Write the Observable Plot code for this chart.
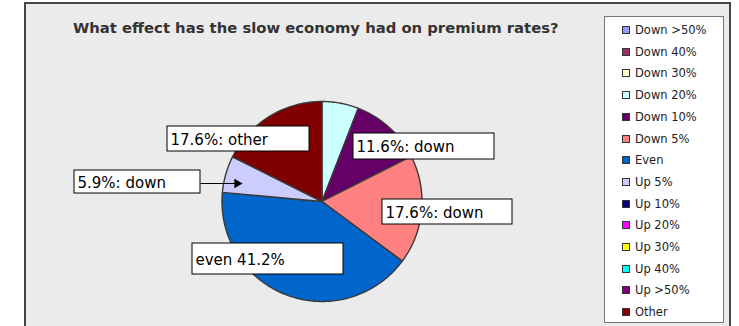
<!DOCTYPE html>
<html>
<head>
<meta charset="utf-8">
<script src="https://cdn.jsdelivr.net/npm/d3@7"></script>
<script src="https://cdn.jsdelivr.net/npm/@observablehq/plot@0.6"></script>
<style>
  html, body { margin: 0; padding: 0; background: #ffffff; }
  #wrap { position: relative; width: 739px; height: 326px; overflow: hidden; background: #ffffff; font-family: "DejaVu Sans", Verdana, sans-serif; }
  #panel { position: absolute; left: 24px; top: 2px; width: 707px; height: 340px; box-sizing: border-box; background: #ebebeb; border: 2px solid #444444; }
  #title { position: absolute; left: 73px; top: 19px; font-weight: bold; font-size: 14.8px; color: #333333; white-space: nowrap; line-height: 18px; }
  #chart { position: absolute; left: 0; top: 0; }
  #legend { position: absolute; left: 604px; top: 16px; width: 120px; height: 307px; box-sizing: border-box; background: #ffffff; border: 1px solid #777777; }
  .item { position: absolute; left: 17px; height: 16px; line-height: 16px; font-size: 11.5px; color: #222222; white-space: nowrap; }
  .sw { position: absolute; left: 0; top: 4px; width: 8px; height: 8px; box-sizing: border-box; border: 1px solid #333333; }
  .lt { position: absolute; left: 13px; top: 0; }
</style>
</head>
<body>
<div id="wrap">
  <div id="panel"></div>
  <div id="chart"></div>
  <div id="title">What effect has the slow economy had on premium rates?</div>
  <div id="legend"></div>
</div>
<script>
// ---- data ----
const categories = ["Down >50%", "Down 40%", "Down 30%", "Down 20%", "Down 10%", "Down 5%", "Even", "Up 5%", "Up 10%", "Up 20%", "Up 30%", "Up 40%", "Up >50%", "Other"];
const shares = [0, 0, 0, 5.9, 11.6, 17.6, 41.2, 5.9, 0, 0, 0, 0, 0, 17.6];
const colors = ["#9999ff", "#993366", "#ffffcc", "#ccffff", "#660066", "#ff8080", "#0066cc", "#ccccff", "#000080", "#ff00ff", "#ffff00", "#00ffff", "#800080", "#800000"];
const labelTexts = ["", "", "", "", "11.6%: down", "17.6%: down", "even 41.2%", "5.9%: down", "", "", "", "", "", "17.6%: other"];

// ---- layout (pixels) ----
const W = 739, H = 326;
const cx = 321.5, cy = 201, R = 100;
// label box positions (x1, y1, x2, y2) keyed by category
const labelBoxes = {
  "Down 10%": [353, 133, 494, 159],
  "Down 5%": [382, 199, 512, 224],
  "Even": [192, 243, 343, 274],
  "Up 5%": [74, 170, 200, 193],
  "Other": [167, 126, 309, 151]
};
const arrowFrom = "Up 5%";

// ---- derived ----
const table = categories.map((c, i) => ({cat: c, share: shares[i], label: labelTexts[i]}));
const arcs = d3.pie().sort(null).value(d => d.share).startAngle(0).endAngle(2 * Math.PI)(table)
  .filter(a => a.data.share > 0);

const pts = [];
for (const a of arcs) {
  pts.push({cat: a.data.cat, x: cx, y: cy});
  const n = Math.max(2, Math.ceil((a.endAngle - a.startAngle) / (Math.PI / 180)));
  for (let k = 0; k <= n; k++) {
    const t = a.startAngle + (a.endAngle - a.startAngle) * k / n;
    pts.push({cat: a.data.cat, x: cx + R * Math.sin(t), y: cy - R * Math.cos(t)});
  }
}

const boxes = table.filter(d => d.label && labelBoxes[d.cat]).map(d => {
  const b = labelBoxes[d.cat];
  return {cat: d.cat, label: d.label, x1: b[0], y1: b[1], x2: b[2], y2: b[3]};
});

const ab = labelBoxes[arrowFrom];
const ay = 183;
const tipX = 242;
const arrowLine = [{x1: ab[2], x2: tipX - 6, y: ay}];
const arrowHead = [{x: tipX - 5.4, y: ay}];

const plot = Plot.plot({
  width: W, height: H,
  marginLeft: 0, marginRight: 0, marginTop: 0, marginBottom: 0,
  style: {background: "transparent", overflow: "visible"},
  x: {domain: [0, W], range: [0, W], axis: null},
  y: {domain: [0, H], range: [0, H], axis: null},
  color: {domain: categories, range: colors},
  marks: [
    Plot.line(pts, {x: "x", y: "y", z: "cat", fill: "cat", stroke: "#3a3a3a", strokeWidth: 1.4, curve: "linear-closed", strokeLinejoin: "round"}),
    Plot.link(arrowLine, {x1: "x1", x2: "x2", y1: "y", y2: "y", stroke: "#000", strokeWidth: 1}),
    Plot.dot(arrowHead, {x: "x", y: "y", symbol: "triangle", r: 3.5, rotate: 90, fill: "#000", stroke: "none"}),
    Plot.rect(boxes, {x1: "x1", x2: "x2", y1: "y1", y2: "y2", fill: "#ffffff", stroke: "#000000", strokeWidth: 1}),
    Plot.text(boxes, {x: d => d.x1 + 3, y: d => (d.y1 + d.y2) / 2 + 1, text: "label", textAnchor: "start", fontSize: 15, fontFamily: "DejaVu Sans, Verdana, sans-serif", fill: "#000"})
  ]
});
document.getElementById("chart").appendChild(plot);

// legend
const legend = document.getElementById("legend");
categories.forEach((c, i) => {
  const it = document.createElement("div");
  it.className = "item";
  it.style.top = (5 + i * 21.7) + "px";
  const sw = document.createElement("span");
  sw.className = "sw";
  sw.style.background = colors[i];
  const lt = document.createElement("span");
  lt.className = "lt";
  lt.textContent = c;
  it.appendChild(sw);
  it.appendChild(lt);
  legend.appendChild(it);
});
</script>
</body>
</html>
